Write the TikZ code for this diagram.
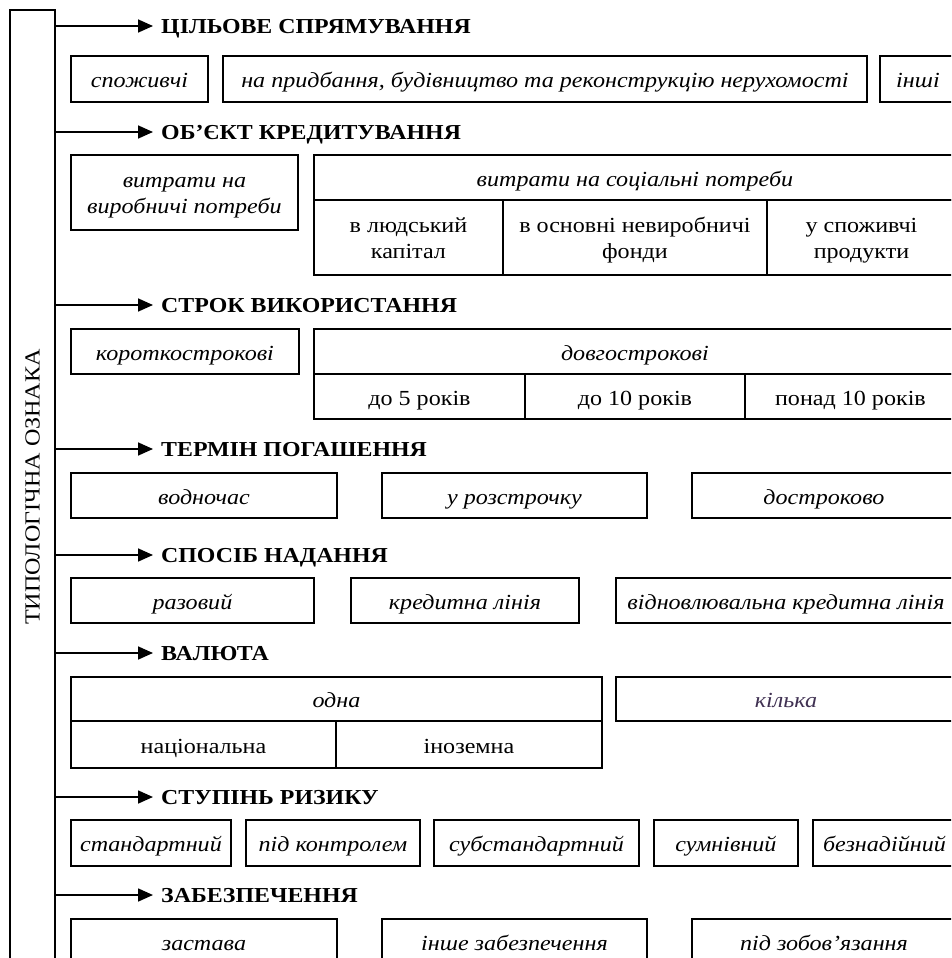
\documentclass[tikz,border=0pt]{standalone}
\usepackage{fontspec}
\setmainfont{Liberation Serif}[FakeStretch=1.12]
\usetikzlibrary{arrows.meta}
\definecolor{kilkacol}{RGB}{64,49,82}

\begin{document}
\begin{tikzpicture}[x=1pt,y=-1pt,>={Triangle[length=15pt,width=13pt]},
  every node/.style={inner sep=0pt,font=\fontsize{21.5}{26}\selectfont},
  cell/.style={draw,line width=1.9pt,anchor=north west,align=center,text height=17.5pt,text depth=0pt,font=\fontsize{21.5}{26}\selectfont\itshape},
  plain/.style={cell,font=\fontsize{21.5}{26}\selectfont},
  twolines/.style={text height=42pt},
  heading/.style={anchor=west,inner xsep=8pt,text height=14.5pt,text depth=0pt,font=\fontsize{21.3}{26}\selectfont\bfseries}]
  \useasboundingbox (0,0) rectangle (951,958);
  \clip (0,0) rectangle (951,958);
  \node[draw,line width=1.9pt,rotate=90,minimum width=954,minimum height=45] (axis) at (32.5,487) {ТИПОЛОГІЧНА ОЗНАКА};
  \foreach \y/\t [count=\i] in {26/ЦІЛЬОВЕ СПРЯМУВАННЯ,132/ОБ’ЄКТ КРЕДИТУВАННЯ,305/СТРОК ВИКОРИСТАННЯ,449/ТЕРМІН ПОГАШЕННЯ,555/СПОСІБ НАДАННЯ,653/ВАЛЮТА,797/СТУПІНЬ РИЗИКУ,895/ЗАБЕЗПЕЧЕННЯ} {
    \node[heading] (h\i) at (153,\y) {\t};
    \draw[->,line width=1.7pt] (axis.south |- h\i.west) -- (h\i.west);
  }
  \foreach \a/\b/\t [count=\j] in {70/207/споживчі,222/866/{на придбання, будівництво та реконструкцію нерухомості},879/955/інші}
    \node[cell,minimum width=\b-\a,minimum height=46] (goal\j) at (\a,55) {\t};
  \node[cell,twolines,minimum width=227,minimum height=75] (prod) at (70,154) {витрати на\\виробничі потреби};
  \node[cell,minimum width=642,minimum height=45] (soc) at (313,154) {витрати на соціальні потреби};
  \foreach \a/\b/\t [count=\j] in {313/502/{в людський\\капітал},502/766/{в основні невиробничі\\фонди},766/955/{у споживчі\\продукти}}
    \node[plain,twolines,minimum width=\b-\a,minimum height=75] (soc\j) at (\a,199) {\t};
  \node[cell,minimum width=228,minimum height=45] (short) at (70,328) {короткострокові};
  \node[cell,minimum width=642,minimum height=45] (long) at (313,328) {довгострокові};
  \foreach \a/\b/\t [count=\j] in {313/524/до 5 років,524/744/до 10 років,744/955/понад 10 років}
    \node[plain,minimum width=\b-\a,minimum height=45] (long\j) at (\a,373) {\t};
  \foreach \a/\b/\t [count=\j] in {70/336/водночас,381/646/у розстрочку,691/955/достроково}
    \node[cell,minimum width=\b-\a,minimum height=45] (pay\j) at (\a,472) {\t};
  \foreach \a/\b/\t [count=\j] in {70/313/разовий,350/578/кредитна лінія,615/955/відновлювальна кредитна лінія}
    \node[cell,minimum width=\b-\a,minimum height=45] (way\j) at (\a,577) {\t};
  \node[cell,minimum width=531,minimum height=44] (one) at (70,676) {одна};
  \node[plain,minimum width=265,minimum height=47] (nat) at (70,720) {національна};
  \node[plain,minimum width=266,minimum height=47] (foreign) at (335,720) {іноземна};
  \node[cell,text=kilkacol,minimum width=340,minimum height=44] (many) at (615,676) {кілька};
  \foreach \a/\b/\t [count=\j] in {70/230/стандартний,245/419/під контролем,433/638/субстандартний,653/797/сумнівний,812/955/безнадійний}
    \node[cell,minimum width=\b-\a,minimum height=46] (risk\j) at (\a,819) {\t};
  \foreach \a/\b/\t [count=\j] in {70/336/застава,381/646/інше забезпечення,691/955/під зобов’язання}
    \node[cell,minimum width=\b-\a,minimum height=45] (sec\j) at (\a,918) {\t};
\end{tikzpicture}
\end{document}
